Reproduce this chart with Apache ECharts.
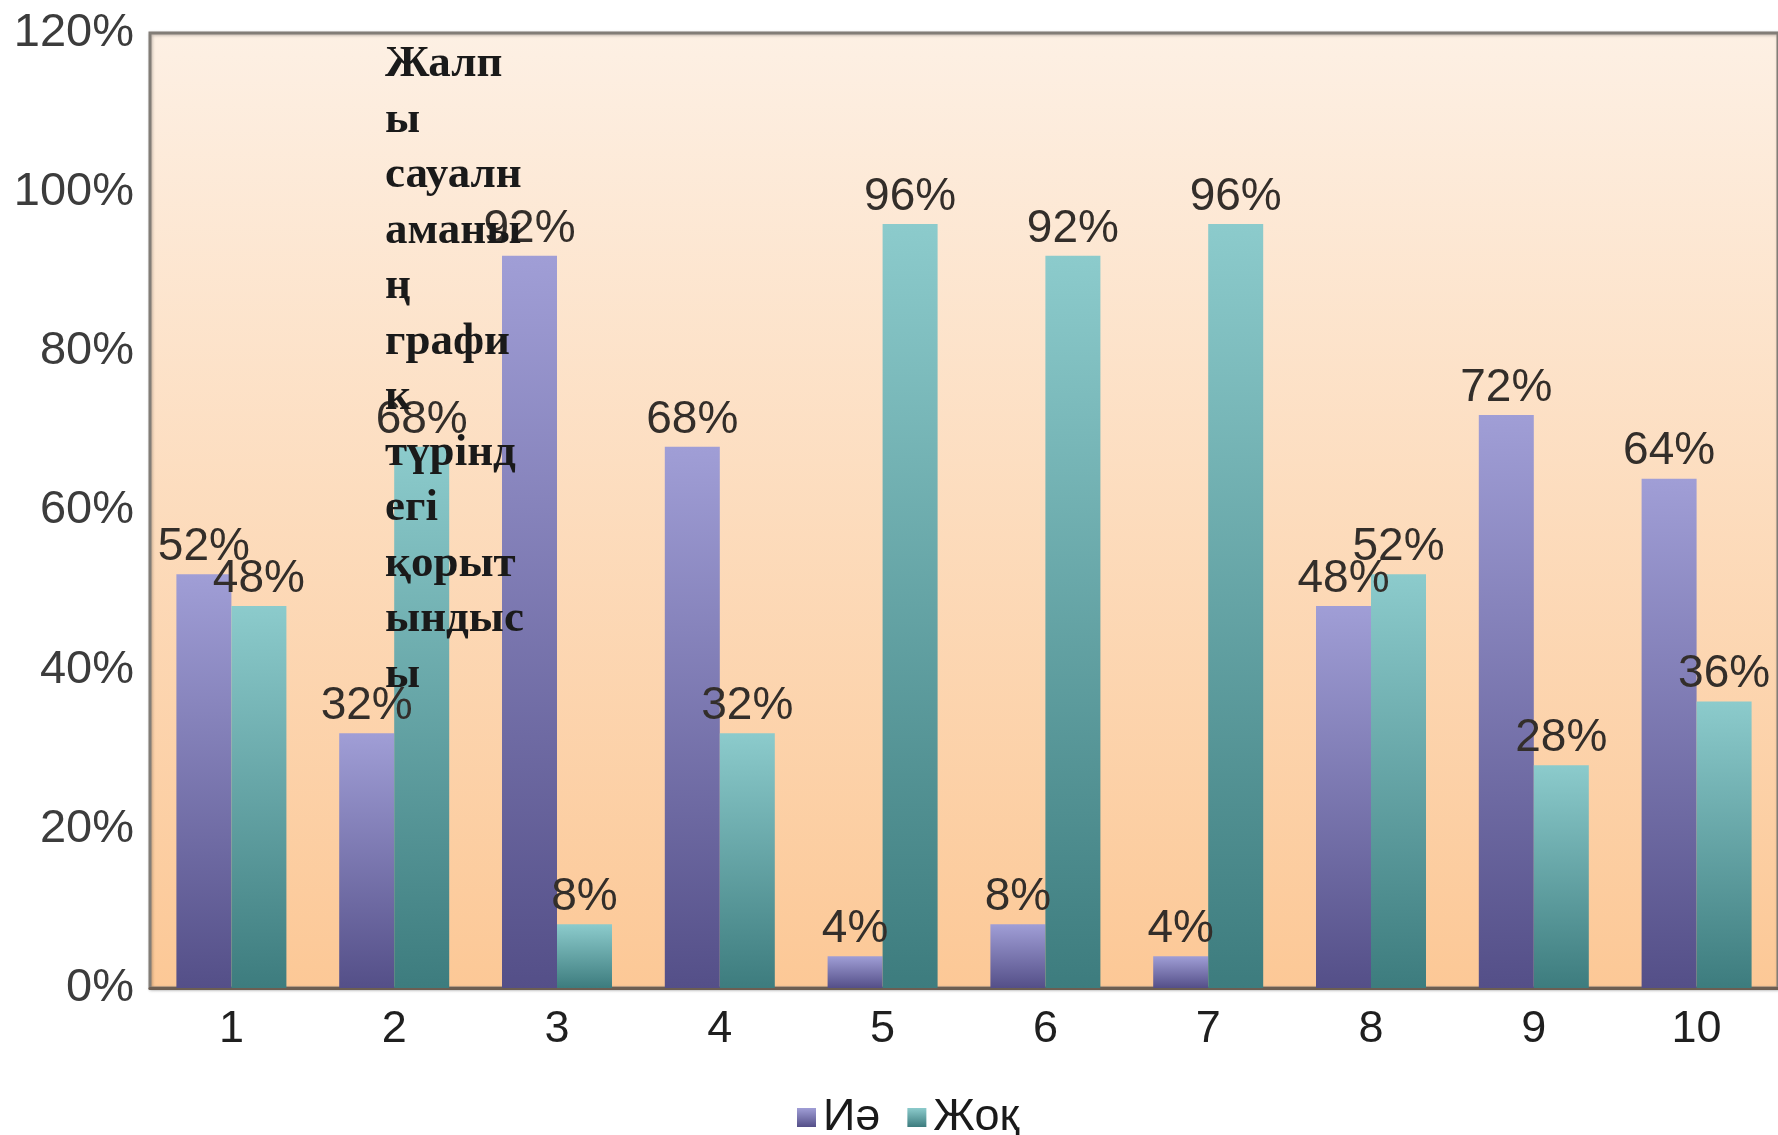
<!DOCTYPE html>
<html>
<head>
<meta charset="utf-8">
<title>Жалпы сауалнаманың график түріндегі қорытындысы</title>
<script src="https://cdn.jsdelivr.net/npm/echarts@6/dist/echarts.min.js"></script>
<style>
  html, body { margin: 0; padding: 0; background: #ffffff; }
  #chart { width: 1778px; height: 1135px; }
</style>
</head>
<body>
<div id="chart"></div>
<script>
// Survey questions 1..10 and share of answers (percent)
const categories = ['1', '2', '3', '4', '5', '6', '7', '8', '9', '10'];
const yesValues = [52, 32, 92, 68, 4, 8, 4, 48, 72, 64];   // Иә
const noValues  = [48, 68, 8, 32, 96, 92, 96, 52, 28, 36];  // Жоқ
const seriesNames = ['Иә', 'Жоқ'];
const titleLines = ['Жалп', 'ы', 'сауалн', 'аманы', 'ң', 'графи', 'к', 'түрінд', 'егі', 'қорыт', 'ындыс', 'ы'];

const sans = '"Liberation Sans", Arial, sans-serif';

function vGrad(top, bottom) {
  return new echarts.graphic.LinearGradient(0, 0, 0, 1, [
    { offset: 0, color: top },
    { offset: 1, color: bottom }
  ]);
}

const labelStyle = {
  show: true,
  position: 'top',
  distance: 4,
  formatter: '{c}%',
  fontFamily: sans,
  fontSize: 46,
  color: '#332e2a'
};

const chart = echarts.init(document.getElementById('chart'), null, { renderer: 'canvas' });

chart.setOption({
  backgroundColor: '#ffffff',
  animation: false,
  title: {
    text: titleLines.join('\n'),
    left: 380,
    top: 32,
    textStyle: {
      fontFamily: '"Liberation Serif", "Times New Roman", serif',
      fontWeight: 'bold',
      fontSize: 45,
      lineHeight: 55.5,
      color: '#1a1a1a'
    },
    z: 10
  },
  legend: {
    data: seriesNames,
    left: 792,
    top: 1090,
    icon: 'rect',
    itemWidth: 19,
    itemHeight: 19,
    itemGap: 27,
    textStyle: { fontFamily: sans, fontSize: 45, color: '#1a1a1a', padding: [0, 0, 0, 2] }
  },
  grid: {
    left: 150,
    right: 0,
    top: 33,
    bottom: 147,
    show: true,
    borderColor: '#827d77',
    borderWidth: 3,
    backgroundColor: vGrad('#fdf0e4', '#fcc896'),
    shadowColor: 'rgba(0,0,0,0.25)',
    shadowBlur: 3,
    shadowOffsetX: 1,
    shadowOffsetY: 1
  },
  xAxis: {
    type: 'category',
    data: categories,
    boundaryGap: true,
    axisLine: { show: true, lineStyle: { color: '#6c5e52', width: 3 } },
    axisTick: { show: false },
    axisLabel: { fontFamily: sans, fontSize: 45, color: '#1f1f1f', margin: 19 },
    splitLine: { show: false }
  },
  yAxis: {
    type: 'value',
    min: 0,
    max: 120,
    interval: 20,
    axisLine: { show: false },
    axisTick: { show: false },
    splitLine: { show: false },
    axisLabel: { fontFamily: sans, fontSize: 47, color: '#3c3c3c', margin: 16, formatter: '{value}%' }
  },
  series: [
    {
      name: seriesNames[0],
      type: 'bar',
      data: yesValues,
      barWidth: 55,
      barGap: '0%',
      itemStyle: { color: vGrad('#a09ed6', '#544f88') },
      label: labelStyle
    },
    {
      name: seriesNames[1],
      type: 'bar',
      data: noValues,
      barWidth: 55,
      barGap: '0%',
      itemStyle: { color: vGrad('#8ccbcc', '#3d7c7e') },
      label: labelStyle
    }
  ]
});
</script>
</body>
</html>
